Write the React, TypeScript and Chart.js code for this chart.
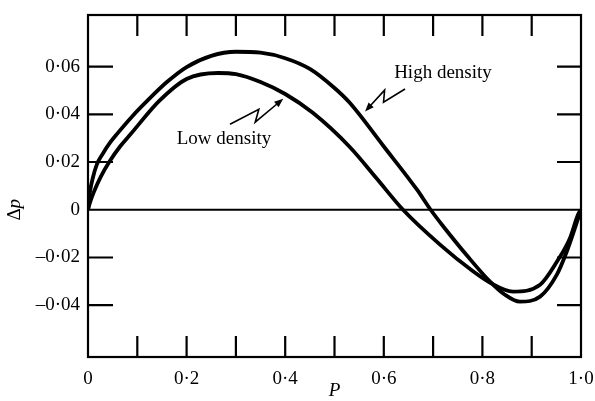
import React, { useEffect, useRef } from "react";
import { Chart, registerables } from "chart.js";

Chart.register(...registerables);

// ---- Data ----
const highP = [0, 0.004, 0.01, 0.018, 0.03, 0.045, 0.059, 0.09, 0.12, 0.16, 0.2, 0.25, 0.3, 0.35, 0.4, 0.45, 0.5, 0.53, 0.6, 0.667, 0.695, 0.72, 0.77, 0.815, 0.845, 0.876, 0.917, 0.951, 0.971, 0.988, 1.0];
const highDp = [0, 0.0075, 0.0135, 0.019, 0.0235, 0.0282, 0.0318, 0.0392, 0.0456, 0.0535, 0.0598, 0.0645, 0.0662, 0.0658, 0.0635, 0.059, 0.051, 0.045, 0.0265, 0.0085, 0, -0.0068, -0.0195, -0.03, -0.0355, -0.0385, -0.0364, -0.0272, -0.0176, -0.0075, 0];

const lowP = [0, 0.004, 0.012, 0.025, 0.043, 0.065, 0.087, 0.144, 0.2, 0.264, 0.3, 0.35, 0.4, 0.456, 0.53, 0.586, 0.639, 0.714, 0.781, 0.815, 0.862, 0.917, 0.951, 0.978, 0.994, 1.0];
const lowDp = [0, 0.003, 0.0075, 0.0135, 0.02, 0.0265, 0.0318, 0.0455, 0.0548, 0.0573, 0.0568, 0.0535, 0.0485, 0.0406, 0.0265, 0.013, 0, -0.0146, -0.0258, -0.0305, -0.0343, -0.0314, -0.0218, -0.0117, -0.002, 0];

const xLabelTicks = [0, 0.2, 0.4, 0.6, 0.8, 1.0];
const yLabelTicks = [-0.04, -0.02, 0, 0.02, 0.04, 0.06];
const xFrameTicks = [0.1, 0.2, 0.3, 0.4, 0.5, 0.6, 0.7, 0.8, 0.9];
const yFrameTicks = [-0.04, -0.02, 0.02, 0.04, 0.06];

const seriesNames = ["High density", "Low density"];
const xTitle = "P";

// Annotation anchors in data units: text left/centre, arrow tail and head
const highLabel = { x: 0.621, y: 0.0573 };
const highArrow = { tail: { x: 0.643, y: 0.0506 }, head: { x: 0.562, y: 0.0412 } };
const lowLabel = { x: 0.18, y: 0.0297 };
const lowArrow = { tail: { x: 0.288, y: 0.0358 }, head: { x: 0.396, y: 0.0465 } };

const FONT = '"Liberation Serif", "Times New Roman", Times, serif';
const FS = 19;

const fmt = (v: number, digits: number) => {
  if (Math.abs(v) < 1e-9) return "0";
  const s = Math.abs(v).toFixed(digits).replace(".", "\u00B7");
  return v < 0 ? "\u2013" + s : s;
};

function toPts(xs: number[], ys: number[]) {
  return xs.map((x, i) => ({ x, y: ys[i] }));
}

const framePlugin = {
  id: "framePlugin",
  afterDatasetsDraw(chart: any) {
    const { ctx, chartArea, scales } = chart;
    const xs = scales.x;
    const ys = scales.y;
    const { left, right, top, bottom } = chartArea;
    ctx.save();
    ctx.strokeStyle = "#000";
    ctx.fillStyle = "#000";
    ctx.lineCap = "butt";

    // zero line
    ctx.lineWidth = 2;
    const y0 = ys.getPixelForValue(0);
    ctx.beginPath();
    ctx.moveTo(left, y0);
    ctx.lineTo(right, y0);
    ctx.stroke();

    // frame
    ctx.lineWidth = 2.2;
    ctx.strokeRect(left, top, right - left, bottom - top);

    // inward ticks
    ctx.beginPath();
    xFrameTicks.forEach((v) => {
      const px = xs.getPixelForValue(v);
      ctx.moveTo(px, bottom);
      ctx.lineTo(px, bottom - 21);
      ctx.moveTo(px, top);
      ctx.lineTo(px, top + 21);
    });
    yFrameTicks.forEach((v) => {
      const py = ys.getPixelForValue(v);
      ctx.moveTo(left, py);
      ctx.lineTo(left + 25, py);
      ctx.moveTo(right, py);
      ctx.lineTo(right - 24, py);
    });
    ctx.stroke();

    // axis titles
    ctx.font = `italic ${FS}px ${FONT}`;
    ctx.textAlign = "center";
    ctx.textBaseline = "middle";
    ctx.fillText(xTitle, (left + right) / 2, 391);

    ctx.save();
    ctx.translate(15, y0);
    ctx.rotate(-Math.PI / 2);
    ctx.textAlign = "left";
    ctx.font = `${FS}px ${FONT}`;
    const wD = ctx.measureText("\u0394").width;
    ctx.font = `italic ${FS}px ${FONT}`;
    const wP = ctx.measureText("p").width;
    const start = -(wD + wP) / 2;
    ctx.font = `${FS}px ${FONT}`;
    ctx.fillText("\u0394", start, 0);
    ctx.font = `italic ${FS}px ${FONT}`;
    ctx.fillText("p", start + wD, 0);
    ctx.restore();

    // curve labels
    ctx.font = `${FS}px ${FONT}`;
    ctx.textAlign = "left";
    ctx.fillText(seriesNames[0], xs.getPixelForValue(highLabel.x), ys.getPixelForValue(highLabel.y));
    ctx.fillText(seriesNames[1], xs.getPixelForValue(lowLabel.x), ys.getPixelForValue(lowLabel.y));

    // lightning arrows
    const drawArrow = (arrow: any) => {
      const ax = xs.getPixelForValue(arrow.tail.x);
      const ay = ys.getPixelForValue(arrow.tail.y);
      const bx = xs.getPixelForValue(arrow.head.x);
      const by = ys.getPixelForValue(arrow.head.y);
      const dx = bx - ax;
      const dy = by - ay;
      const len = Math.hypot(dx, dy);
      const ux = dx / len;
      const uy = dy / len;
      const nx = -uy;
      const ny = ux;
      const c1x = ax + 0.55 * dx - nx * 1;
      const c1y = ay + 0.55 * dy - ny * 1;
      const c2x = ax + 0.4 * dx + nx * 9;
      const c2y = ay + 0.4 * dy + ny * 9;
      const hl = 9;
      const hw = 3.5;
      const lx = bx - c2x;
      const ly = by - c2y;
      const ll = Math.hypot(lx, ly);
      const vx = lx / ll;
      const vy = ly / ll;
      const bxs = bx - vx * hl;
      const bys = by - vy * hl;
      ctx.lineWidth = 1.6;
      ctx.lineJoin = "miter";
      ctx.beginPath();
      ctx.moveTo(ax, ay);
      ctx.lineTo(c1x, c1y);
      ctx.lineTo(c2x, c2y);
      ctx.lineTo(bxs + vx * 2, bys + vy * 2);
      ctx.stroke();
      ctx.beginPath();
      ctx.moveTo(bx, by);
      ctx.lineTo(bxs - vy * hw, bys + vx * hw);
      ctx.lineTo(bxs + vy * hw, bys - vx * hw);
      ctx.closePath();
      ctx.fill();
    };
    drawArrow(highArrow);
    drawArrow(lowArrow);

    ctx.restore();
  },
};

export default function App() {
  const canvasRef = useRef<HTMLCanvasElement | null>(null);

  useEffect(() => {
    if (!canvasRef.current) return;
    const chart = new Chart(canvasRef.current, {
      type: "line",
      data: {
        datasets: [
          {
            label: seriesNames[0],
            data: toPts(highP, highDp),
            borderColor: "#000",
            borderWidth: 3.8,
            pointRadius: 0,
            cubicInterpolationMode: "monotone",
            fill: false,
          },
          {
            label: seriesNames[1],
            data: toPts(lowP, lowDp),
            borderColor: "#000",
            borderWidth: 3.8,
            pointRadius: 0,
            cubicInterpolationMode: "monotone",
            fill: false,
          },
        ],
      },
      options: {
        animation: false,
        responsive: true,
        maintainAspectRatio: false,
        layout: { padding: { top: 15, right: 14, left: 0, bottom: 0 } },
        plugins: { legend: { display: false }, tooltip: { enabled: false } },
        scales: {
          x: {
            type: "linear",
            min: 0,
            max: 1,
            grid: { display: false, drawTicks: false },
            border: { display: false },
            afterBuildTicks: (scale: any) => {
              scale.ticks = xLabelTicks.map((v) => ({ value: v }));
            },
            afterFit: (scale: any) => {
              scale.height = 44;
              scale.paddingLeft = 0;
              scale.paddingRight = 0;
            },
            ticks: {
              autoSkip: false,
              maxRotation: 0,
              padding: 11,
              color: "#000",
              font: { family: FONT, size: FS },
              callback: (v: any) => fmt(Number(v), 1),
            },
          },
          y: {
            type: "linear",
            min: -0.0617,
            max: 0.0816,
            grid: { display: false, drawTicks: false },
            border: { display: false },
            afterBuildTicks: (scale: any) => {
              scale.ticks = yLabelTicks.map((v) => ({ value: v }));
            },
            afterFit: (scale: any) => {
              scale.width = 88;
              scale.paddingTop = 0;
              scale.paddingBottom = 0;
            },
            ticks: {
              autoSkip: false,
              padding: 8,
              color: "#000",
              font: { family: FONT, size: FS },
              callback: (v: any) => fmt(Number(v), 2),
            },
          },
        },
      },
      plugins: [framePlugin],
    } as any);
    return () => chart.destroy();
  }, []);

  return (
    <div style={{ position: "fixed", left: 0, top: 0, width: 595, height: 401, background: "#fff" }}>
      <canvas ref={canvasRef} />
    </div>
  );
}
